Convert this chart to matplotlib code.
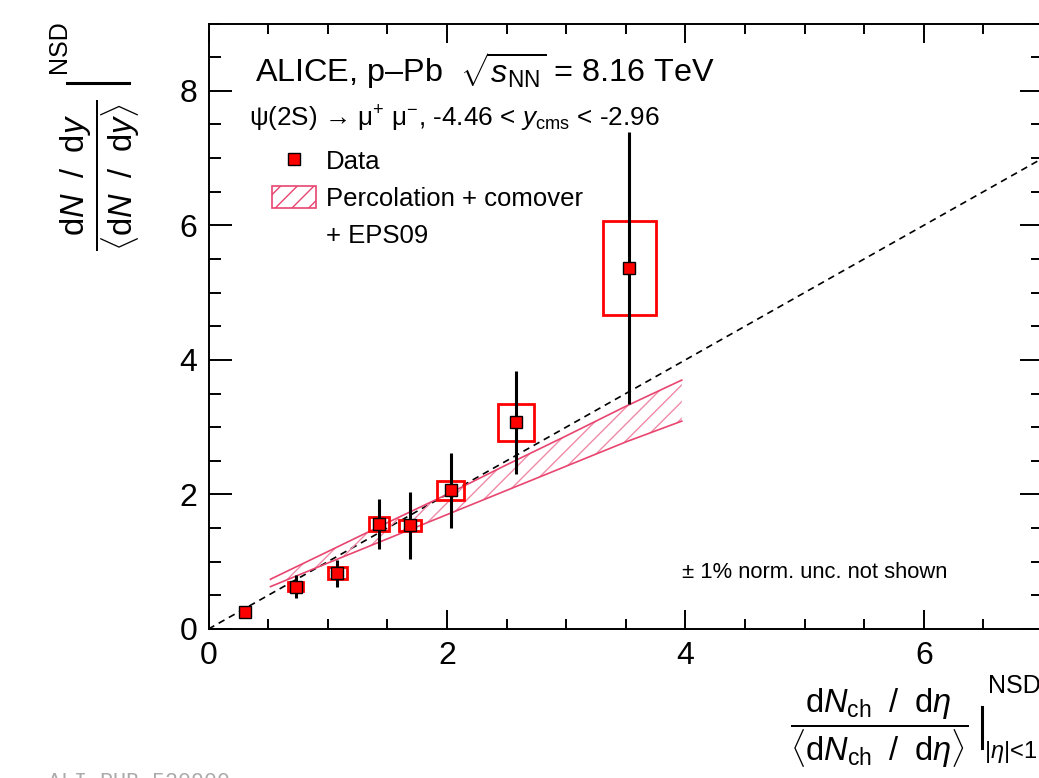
import matplotlib
matplotlib.use('Agg')
import matplotlib.pyplot as plt
from matplotlib import ticker
from matplotlib.patches import Rectangle, Patch
from matplotlib.lines import Line2D

plt.rcParams['font.family'] = ['Liberation Sans', 'DejaVu Sans']
plt.rcParams['mathtext.fontset'] = 'custom'
plt.rcParams['mathtext.rm'] = 'Liberation Sans'
plt.rcParams['mathtext.it'] = 'Liberation Sans:italic'
plt.rcParams['mathtext.sf'] = 'Liberation Sans'
plt.rcParams['hatch.linewidth'] = 1.0

# psi(2S) data points: multiplicity, yield, stat. and syst. uncertainties
mult_x = [0.31, 0.73, 1.08, 1.43, 1.69, 2.03, 2.58, 3.53]
yield_y = [0.25, 0.63, 0.83, 1.56, 1.54, 2.06, 3.07, 5.36]
stat_err = [0.05, 0.17, 0.20, 0.37, 0.50, 0.56, 0.77, 2.02]
sys_dx = [0.04, 0.06, 0.08, 0.08, 0.095, 0.115, 0.15, 0.225]
sys_dy = [0.04, 0.07, 0.09, 0.10, 0.08, 0.14, 0.28, 0.70]

# percolation + comover + EPS09 band
band_x = [0.52, 1.0, 1.5, 2.0, 2.5, 3.0, 3.5, 3.97]
band_hi = [0.74, 1.15, 1.58, 2.00, 2.44, 2.87, 3.31, 3.70]
band_lo = [0.63, 0.98, 1.34, 1.70, 2.06, 2.42, 2.78, 3.09]

# y = x reference line
diag_x = [0, 7]
diag_y = [0, 7]

W, H = 1039, 778
def fx(px):
    return px / W
def fy(py):
    return 1 - py / H

red = '#ff0000'
pink = '#e8456f'
pink_hatch = '#f08aa8'

fig = plt.figure(figsize=(W / 100, H / 100), dpi=100)
ax = fig.add_axes([fx(208.5), fy(629), fx(1043) - fx(208.5), fy(23.5) - fy(629)])

ax.plot(diag_x, diag_y, color='black', linestyle=(0, (4, 3)), linewidth=1.2, zorder=1)

ax.fill_between(band_x, band_lo, band_hi, facecolor='none', edgecolor=pink_hatch,
                hatch='//', linewidth=0, zorder=2)
ax.plot(band_x, band_hi, color=pink, linewidth=1.2, zorder=2)
ax.plot(band_x, band_lo, color=pink, linewidth=1.2, zorder=2)

for x, y, dx, dy in zip(mult_x, yield_y, sys_dx, sys_dy):
    ax.add_patch(Rectangle((x - dx, y - dy), 2 * dx, 2 * dy, fill=False,
                           edgecolor=red, linewidth=2.0, zorder=3))

ax.errorbar(mult_x, yield_y, yerr=stat_err, fmt='none', ecolor='black',
            elinewidth=2.2, capsize=0, zorder=4)
ax.plot(mult_x, yield_y, linestyle='none', marker='s', markersize=8,
        markerfacecolor=red, markeredgecolor='black', markeredgewidth=1.0, zorder=5)

ax.set_xlim(0, 7)
ax.set_ylim(0, 9)
ax.xaxis.set_major_locator(ticker.FixedLocator([0, 2, 4, 6]))
ax.yaxis.set_major_locator(ticker.FixedLocator([0, 2, 4, 6, 8]))
ax.xaxis.set_minor_locator(ticker.MultipleLocator(0.5))
ax.yaxis.set_minor_locator(ticker.MultipleLocator(0.5))
for s in ax.spines.values():
    s.set_linewidth(1.4)
ax.tick_params(which='both', direction='in', top=True, right=True, width=1.4)
ax.tick_params(axis='x', which='major', length=13.7, labelsize=23, pad=9)
ax.tick_params(axis='x', which='minor', length=7)
ax.tick_params(axis='y', which='major', length=16.5, labelsize=23, pad=8)
ax.tick_params(axis='y', which='minor', length=8.3)

# legend
handles = [Line2D([], [], linestyle='none', marker='s', markersize=8,
                  markerfacecolor=red, markeredgecolor='black', markeredgewidth=1.0),
           Patch(facecolor='none', edgecolor=pink, hatch='//', linewidth=1.2),
           Patch(facecolor='none', edgecolor='none')]
labels = ['Data', 'Percolation + comover', '+ EPS09']
ax.legend(handles, labels, loc='upper left', bbox_to_anchor=(fx(272), fy(149)),
          bbox_transform=fig.transFigure, frameon=False, fontsize=18.5,
          borderpad=0, borderaxespad=0, handlelength=1.71, handleheight=0.93,
          handletextpad=0.4, labelspacing=0.48)

# texts
fig.text(fx(255), fy(81.7), r'ALICE, p–Pb  $\sqrt{s_{\mathrm{NN}}}$ = 8.16 TeV',
         fontsize=23.3, va='baseline', ha='left')
fig.text(fx(249), fy(126.7),
         r'ψ(2S) → μ$^{+}$ μ$^{-}$, -4.46 < $y_{\mathrm{cms}}$ < -2.96',
         fontsize=18.8, va='baseline', ha='left')
fig.text(fx(681.7), fy(573), '± 1% norm. unc. not shown', fontsize=15.8,
         va='center', ha='left')

# y axis title
fig.text(fx(100), fy(175),
         r'$\dfrac{\mathrm{d}N\ \;/\ \;\mathrm{d}y}{\langle\mathrm{d}N\ \;/\ \;\mathrm{d}y\rangle}$',
         fontsize=23.5, rotation=90, ha='center', va='center')
fig.add_artist(Line2D([fx(67), fx(129)], [fy(83), fy(83)], color='black', linewidth=2.2))
fig.text(fx(59), fy(47), 'NSD', fontsize=18, rotation=90, ha='center', va='center')

# x axis title
fig.text(fx(879), fy(728),
         r'$\dfrac{\mathrm{d}N_{\mathrm{ch}}\ \;/\ \;\mathrm{d}\eta}{\langle\mathrm{d}N_{\mathrm{ch}}\ \;/\ \;\mathrm{d}\eta\rangle}$',
         fontsize=23.5, ha='center', va='center')
fig.add_artist(Line2D([fx(981.7), fx(981.7)], [fy(706.7), fy(748)], color='black', linewidth=2.2))
fig.text(fx(988), fy(686), 'NSD', fontsize=18, ha='left', va='center')
fig.text(fx(984), fy(752), r'$|\eta|$<1', fontsize=17, ha='left', va='center')

fig.text(fx(48), fy(771.7), 'ALI-PUB-520900', fontsize=15.6, color='#aaaaaa',
         family='Liberation Mono', ha='left', va='top')

fig.savefig('out.png', dpi=100)
